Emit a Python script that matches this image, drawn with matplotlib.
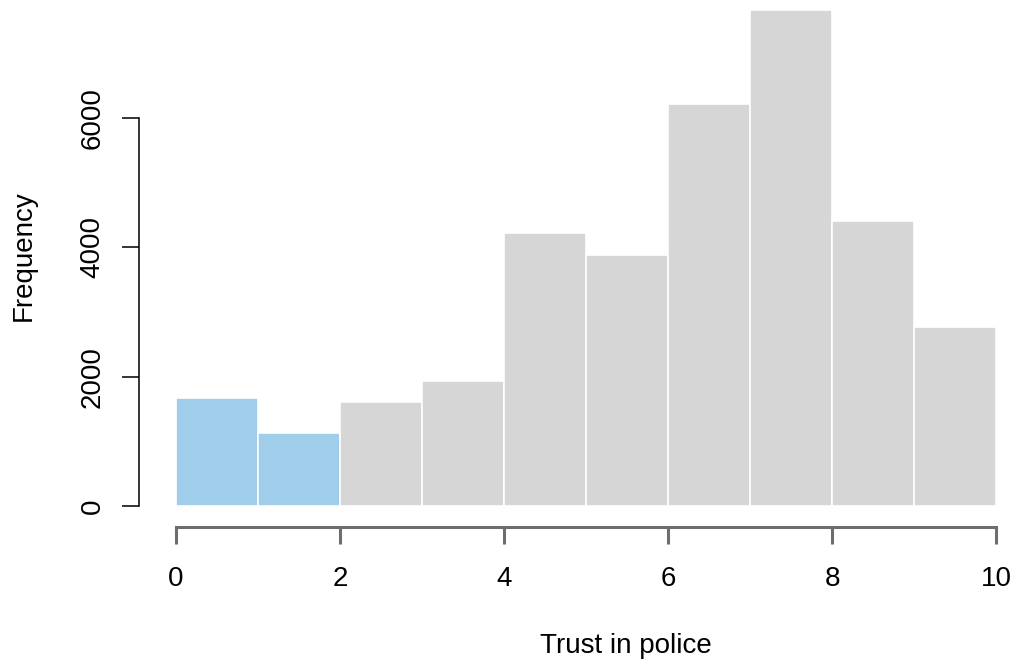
import matplotlib
matplotlib.use('Agg')
import matplotlib.pyplot as plt

# histogram of trust in police (bins of width 1)
bin_edges = [0, 1, 2, 3, 4, 5, 6, 7, 8, 9, 10]
counts = [1666, 1134, 1609, 1929, 4218, 3882, 6218, 7667, 4413, 2769]
highlight_bins = 2  # first two bins shown in blue
x_ticks = [0, 2, 4, 6, 8, 10]
y_ticks = [0, 2000, 4000, 6000]

plt.rcParams['font.family'] = ['Liberation Sans', 'DejaVu Sans']

fig = plt.figure(figsize=(10.16, 6.64), dpi=100)
# axes: x 0..10 -> px 176..996, y 0 at px 506, top at figure edge
ax = fig.add_axes([176 / 1016, (664 - 506) / 664, 820 / 1016, 506 / 664])

colors = ['#a0cde9' if i < highlight_bins else '#d6d6d6' for i in range(len(counts))]
ax.bar(bin_edges[:-1], counts, width=[b - a for a, b in zip(bin_edges[:-1], bin_edges[1:])],
       align='edge', color=colors, edgecolor='white', linewidth=1.2)

ax.set_xlim(0, 10)
ax.set_ylim(0, 506 / 0.06465)

for s in ['top', 'right']:
    ax.spines[s].set_visible(False)
ax.spines['left'].set_position(('outward', 26.6))
ax.spines['left'].set_bounds(0, 6000)
ax.spines['left'].set_linewidth(1.1)
ax.spines['bottom'].set_position(('outward', 15))
ax.spines['bottom'].set_bounds(0, 10)
ax.spines['bottom'].set_linewidth(2.2)
ax.spines['bottom'].set_color('#6e6e6e')

ax.set_xticks(x_ticks)
ax.set_yticks(y_ticks)
ax.tick_params(axis='y', length=12, width=1.1, pad=12, labelsize=20,
               labelrotation=90, colors='black')
for lab in ax.get_yticklabels():
    lab.set_verticalalignment('center')
ax.tick_params(axis='x', length=12, width=2.2, pad=16, labelsize=20,
               color='#6e6e6e', labelcolor='black')

ax.set_xlabel('Trust in police', fontsize=20)
ax.xaxis.label.set_verticalalignment('center')
ax.xaxis.set_label_coords((626 - 176) / 820, (506 - 646) / 506)
ax.set_ylabel('Frequency', fontsize=20)
ax.yaxis.label.set_verticalalignment('center')
ax.yaxis.set_label_coords((24 - 176) / 820, (506 - 256) / 506)

fig.savefig('out.png', dpi=100)
